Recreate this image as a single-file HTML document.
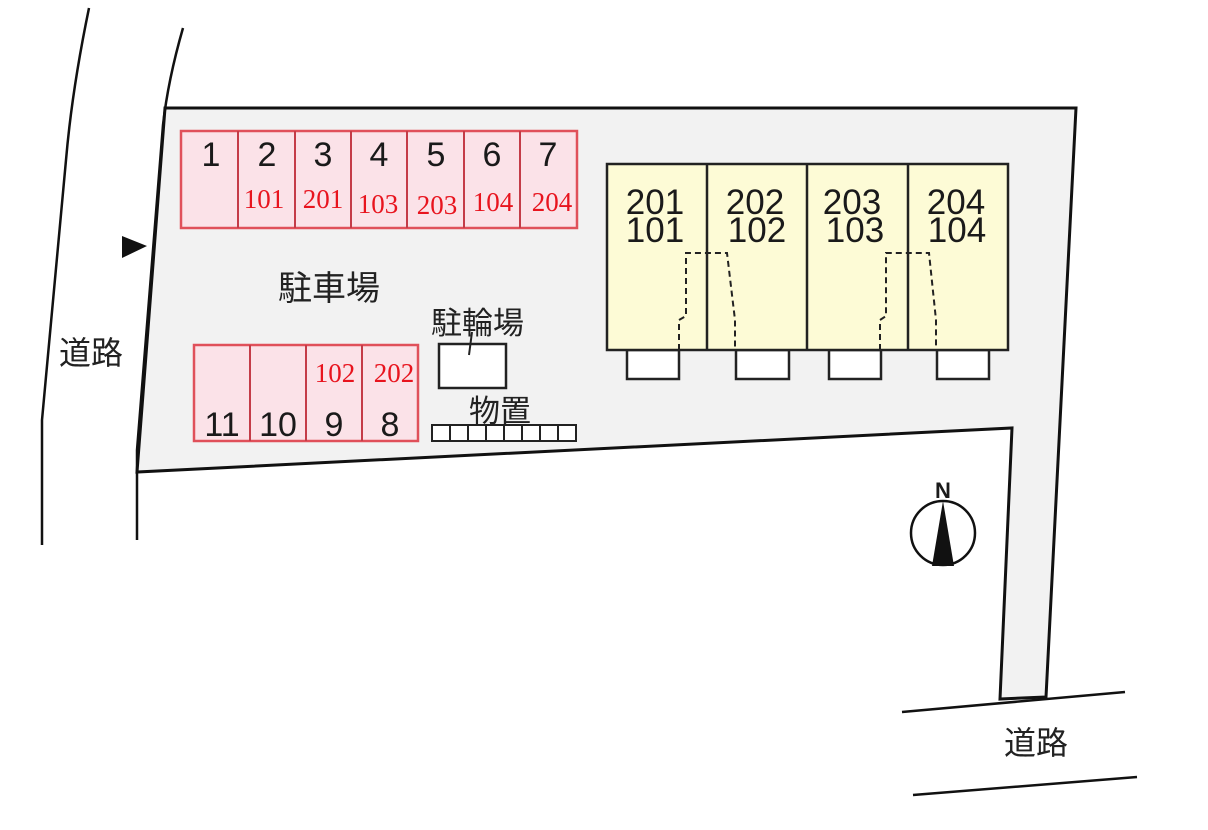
<!DOCTYPE html>
<html><head><meta charset="utf-8"><style>
html,body{margin:0;padding:0;background:#fff;}
svg{display:block;}
.j{font-family:"Liberation Sans","Noto Sans CJK JP",sans-serif;fill:#222;}
.n{font-family:"Liberation Sans",sans-serif;fill:#1a1a1a;}
.r{font-family:"Liberation Serif",serif;fill:#e8141e;}
</style></head><body>
<svg width="1208" height="830" viewBox="0 0 1208 830">
<polygon points="165,108 1076,108 1046,697 1000,699 1012,428 137,472" fill="#f2f2f2" stroke="#111" stroke-width="3"/>
<path d="M89,8 Q72,90 66,160 L42,420 L42,545" fill="none" stroke="#111" stroke-width="2.5"/>
<path d="M183,28 Q168,80 163,125 L137,450 L137,540" fill="none" stroke="#111" stroke-width="2.5"/>
<line x1="902" y1="712" x2="1125" y2="692" stroke="#111" stroke-width="2.5"/>
<line x1="913" y1="795" x2="1137" y2="777" stroke="#111" stroke-width="2.5"/>
<polygon points="122,236 147,246 122,258" fill="#111"/>
<text class="j" x="59" y="364" font-size="32">道路</text>
<text class="j" x="1004" y="754" font-size="32">道路</text>
<rect x="181" y="131" width="396" height="97" stroke="#e0505a" stroke-width="2.5" fill="#fbe2e8"/>
<g stroke="#c43c48" stroke-width="2">
<line x1="238" y1="131" x2="238" y2="228"/><line x1="295" y1="131" x2="295" y2="228"/>
<line x1="351" y1="131" x2="351" y2="228"/><line x1="407" y1="131" x2="407" y2="228"/>
<line x1="464" y1="131" x2="464" y2="228"/><line x1="520" y1="131" x2="520" y2="228"/>
</g>
<g class="n" font-size="34" text-anchor="middle">
<text x="211" y="166">1</text><text x="267" y="166">2</text><text x="323" y="166">3</text>
<text x="379" y="166">4</text><text x="436" y="166">5</text><text x="492" y="166">6</text><text x="548" y="166">7</text>
</g>
<g class="r" font-size="27" text-anchor="middle">
<text x="264" y="208">101</text><text x="323" y="208">201</text><text x="378" y="213">103</text>
<text x="437" y="214">203</text><text x="493" y="211">104</text><text x="552" y="211">204</text>
</g>
<text class="j" x="278" y="300" font-size="34">駐車場</text>
<rect x="194" y="345" width="224" height="96" fill="#fbe2e8" stroke="#e0505a" stroke-width="2.5"/>
<g stroke="#c43c48" stroke-width="2">
<line x1="250" y1="345" x2="250" y2="441"/><line x1="306" y1="345" x2="306" y2="441"/><line x1="362" y1="345" x2="362" y2="441"/>
</g>
<g class="n" font-size="34" text-anchor="middle">
<text x="222" y="436">11</text><text x="278" y="436">10</text><text x="334" y="436">9</text><text x="390" y="436">8</text>
</g>
<g class="r" font-size="27" text-anchor="middle">
<text x="335" y="382">102</text><text x="394" y="382">202</text>
</g>
<text class="j" x="431" y="334" font-size="31">駐輪場</text>
<rect x="439" y="344" width="67" height="44" fill="#fff" stroke="#222" stroke-width="2.5"/>
<line x1="472" y1="332" x2="469" y2="355" stroke="#222" stroke-width="2"/>
<text class="j" x="469" y="422" font-size="31">物置</text>
<g fill="#fff" stroke="#222" stroke-width="2">
<rect x="432" y="425" width="18" height="16"/><rect x="450" y="425" width="18" height="16"/>
<rect x="468" y="425" width="18" height="16"/><rect x="486" y="425" width="18" height="16"/>
<rect x="504" y="425" width="18" height="16"/><rect x="522" y="425" width="18" height="16"/>
<rect x="540" y="425" width="18" height="16"/><rect x="558" y="425" width="18" height="16"/>
</g>
<g fill="#fff" stroke="#222" stroke-width="2.5">
<rect x="627" y="350" width="52" height="29"/><rect x="736" y="350" width="53" height="29"/>
<rect x="829" y="350" width="52" height="29"/><rect x="937" y="350" width="52" height="29"/>
</g>
<rect x="607" y="164" width="401" height="186" fill="#fdfbd6" stroke="#222" stroke-width="2.5"/>
<g stroke="#222" stroke-width="2.5">
<line x1="707" y1="164" x2="707" y2="350"/><line x1="807" y1="164" x2="807" y2="350"/><line x1="908" y1="164" x2="908" y2="350"/>
</g>
<g fill="none" stroke="#222" stroke-width="2" stroke-dasharray="6,4">
<polyline points="679,350 679,320 686,316 686,253 727,253 735,320 735,350"/>
<polyline points="880,350 880,320 886,316 886,253 929,253 936,320 936,350"/>
</g>
<g class="n" font-size="35" text-anchor="middle">
<text x="655" y="214">201</text><text x="655" y="242">101</text>
<text x="755" y="214">202</text><text x="757" y="242">102</text>
<text x="852" y="214">203</text><text x="855" y="242">103</text>
<text x="956" y="214">204</text><text x="957" y="242">104</text>
</g>
<circle cx="943" cy="533" r="32" fill="#fff" stroke="#111" stroke-width="2.5"/>
<polygon points="943,501 932,566 954,566" fill="#111"/>
<text class="n" x="943" y="498" font-size="22" text-anchor="middle" font-weight="bold">N</text>
</svg>
</body></html>
